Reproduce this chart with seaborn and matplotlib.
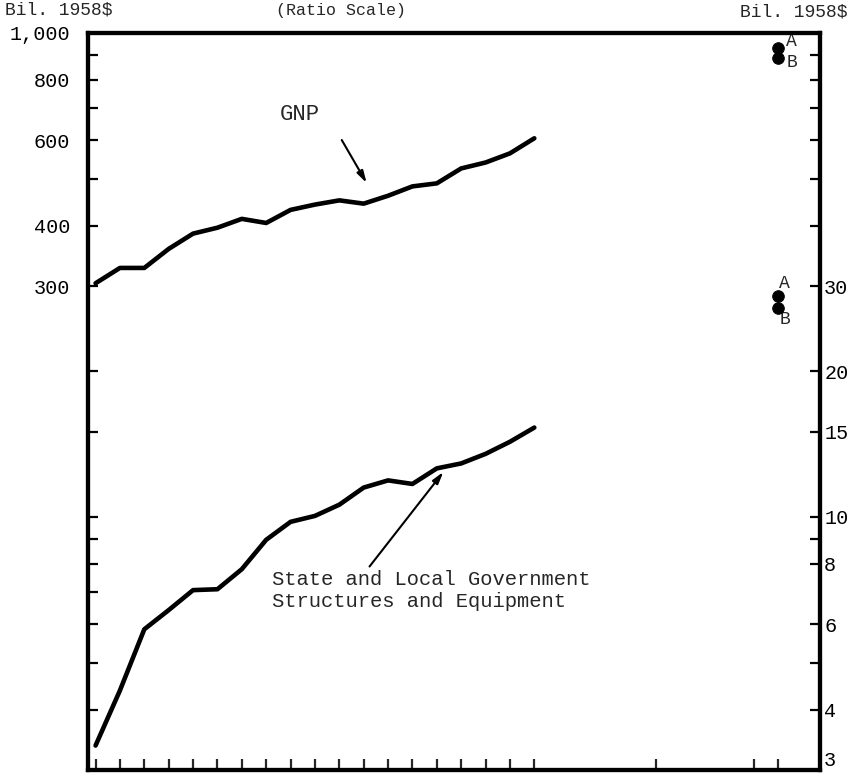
import numpy as np
import pandas as pd
import seaborn as sns
import matplotlib.pyplot as plt
import matplotlib.transforms as mtransforms
from matplotlib.ticker import FixedLocator, FixedFormatter, NullFormatter

# Data (billions of 1958 dollars)
years = list(range(1947, 1966))
gnp = [304, 327, 327, 358, 385, 396, 413, 405, 431, 442,
       451, 444, 461, 482, 489, 525, 540, 564, 606]
state_local = [3.37, 4.38, 5.86, 6.42, 7.06, 7.09, 7.80, 8.97, 9.77, 10.05,
               10.6, 11.5, 11.9, 11.7, 12.6, 12.9, 13.5, 14.3, 15.3]

# 1975 projections, alternatives A and B
proj_year = 1975
proj_labels = ["A", "B"]
gnp_proj = [931, 888]
sl_proj = [28.6, 27.0]

left_major = [300, 400, 600, 800, 1000]
left_labels = ["300", "400", "600", "800", "1,000"]
left_minor = [40, 50, 60, 70, 80, 90, 100, 150, 200, 500, 700, 900]
right_major = [3, 4, 6, 8, 10, 15, 20, 30]
right_labels = ["3", "4", "6", "8", "10", "15", "20", "30"]
right_minor = [5, 9, 40, 50, 60, 70, 80, 90]
x_ticks = years + [1970, 1974, 1975]

sns.set_style("white")
plt.rcParams['font.family'] = ['Liberation Mono', 'DejaVu Sans Mono']

df_gnp = pd.DataFrame({"year": years, "value": gnp})
df_sl = pd.DataFrame({"year": years, "value": state_local})

fig = plt.figure(figsize=(8.51, 7.83), dpi=100)
ax = fig.add_axes([88 / 851, 13 / 783, 732 / 851, 737 / 783])
ax2 = ax.twinx()

sns.lineplot(data=df_gnp, x="year", y="value", ax=ax, color="black", lw=3.3)
sns.lineplot(data=df_sl, x="year", y="value", ax=ax2, color="black", lw=3.3)
sns.scatterplot(x=[proj_year] * 2, y=gnp_proj, ax=ax, color="black", s=70,
                edgecolor="black", zorder=5)
sns.scatterplot(x=[proj_year] * 2, y=sl_proj, ax=ax2, color="black", s=70,
                edgecolor="black", zorder=5)

ax.set_yscale("log")
ax.set_ylim(30, 1000)
ax2.set_yscale("log")
ax2.set_ylim(3, 100)
ax.set_xlim(1946.69, 1976.72)

# Left axis ticks
ax.yaxis.set_major_locator(FixedLocator(left_major))
ax.yaxis.set_major_formatter(FixedFormatter(left_labels))
ax.yaxis.set_minor_locator(FixedLocator(left_minor))
ax.yaxis.set_minor_formatter(NullFormatter())
ax.tick_params(axis="y", which="both", direction="in", length=7, width=1.6,
               labelsize=14.5, pad=13, colors="black")

# Right axis ticks
ax2.yaxis.set_major_locator(FixedLocator(right_major))
ax2.yaxis.set_major_formatter(FixedFormatter(right_labels))
ax2.yaxis.set_minor_locator(FixedLocator(right_minor))
ax2.yaxis.set_minor_formatter(NullFormatter())
ax2.tick_params(axis="y", which="both", direction="in", length=7, width=1.6,
                labelsize=14.5, pad=3, colors="black")

# lift the bottom "3" label clear of the bottom spine, as in the original
lift = mtransforms.ScaledTranslation(0, 11 / 100, fig.dpi_scale_trans)
lbl3 = ax2.get_yticklabels()[0]
lbl3.set_transform(lbl3.get_transform() + lift)

# Bottom ticks (labels are cut off in the original)
ax.xaxis.set_major_locator(FixedLocator(x_ticks))
ax.xaxis.set_minor_locator(FixedLocator([]))
ax.tick_params(axis="x", which="both", direction="in", length=8, width=1.6,
               labelbottom=False, bottom=True, top=False)

ax.set_xlabel("")
ax.set_ylabel("")
ax2.set_ylabel("")
for a in (ax, ax2):
    for side in ["left", "right", "top", "bottom"]:
        a.spines[side].set_linewidth(3)
        a.spines[side].set_color("black")

# Projection point labels
for lab, val, dy in zip(proj_labels, gnp_proj, [5, -3]):
    ax.annotate(lab, xy=(proj_year, val), xytext=(6, dy), textcoords="offset points",
                ha="left", va="center", fontsize=13)
for lab, val, dy in zip(proj_labels, sl_proj, [9, -8]):
    ax2.annotate(lab, xy=(proj_year, val), xytext=(1, dy), textcoords="offset points",
                 ha="left", va="center", fontsize=13)

# Series labels with arrows
arrow = dict(arrowstyle="-|>,head_length=0.7,head_width=0.2", color="black",
             lw=1.5, shrinkA=0, shrinkB=0)
ax.text(1954.57, 677, "GNP", ha="left", va="center", fontsize=16)
ax.annotate("", xy=(1958.12, 490), xytext=(1957.10, 601), arrowprops=arrow)
ax.text(1954.24, 70.6, "State and Local Government\nStructures and Equipment",
        ha="left", va="center", fontsize=14.8, linespacing=1.2)
ax.annotate("", xy=(1961.27, 123.9), xytext=(1958.24, 79), arrowprops=arrow)

# Header texts
fig.text(5 / 851, 1 - 10 / 783, "Bil. 1958$", ha="left", va="center", fontsize=13)
fig.text(341 / 851, 1 - 10 / 783, "(Ratio Scale)", ha="center", va="center", fontsize=12)
fig.text(848 / 851, 1 - 12 / 783, "Bil. 1958$", ha="right", va="center", fontsize=13)

fig.savefig("out.png", dpi=100)
